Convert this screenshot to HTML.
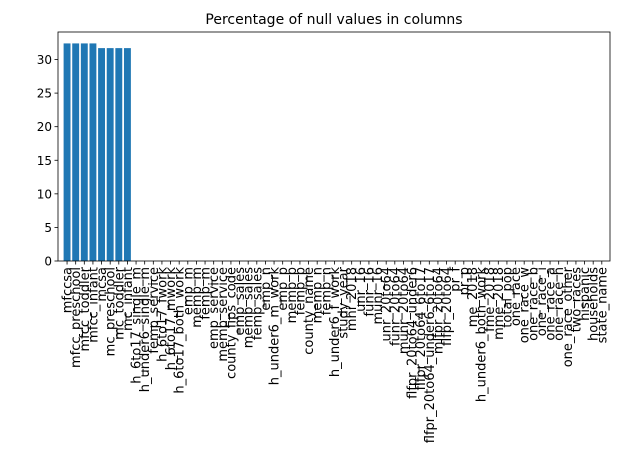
<!DOCTYPE html>
<html><head><meta charset="utf-8"><style>
body{margin:0;background:#fff;}
svg text{font-family:"DejaVu Sans","Liberation Sans",sans-serif;}
</style></head><body>
<svg id="chart" width="630" height="470" xmlns="http://www.w3.org/2000/svg">
<text x="334" y="24" font-size="14" text-anchor="middle">Percentage of null values in columns</text>
<g id="bars"></g>
<g id="yaxis"></g>
<g id="xaxis"></g>
<rect x="58" y="32" width="552" height="229" fill="none" stroke="#000" stroke-width="0.8"/>
</svg>
<script>
const categories=["mfccsa","mfcc_preschool","mfcc_toddler","mfcc_infant","mcsa","mc_preschool","mc_toddler","mc_infant","h_6to17_single_m","h_under6_single_m","femp_service","h_6to17_fwork","h_6to17_mwork","h_6to17_both_work","emp_m","memp_m","femp_m","emp_service","memp_service","county_fips_code","emp_sales","memp_sales","femp_sales","emp_n","h_under6_m_work","emp_p","memp_p","femp_p","county_name","memp_n","femp_n","h_under6_f_work","study_year","mhi_2018","unr_16","funr_16","munr_16","unr_20to64","funr_20to64","munr_20to64","flfpr_20to64_under6","flfpr_20to64_6to17","flfpr_20to64_under6_6to17","mlfpr_20to64","flfpr_20to64","pr_f","pr_p","me_2018","h_under6_both_work","fme_2018","mme_2018","total_pop","one_race","one_race_w","one_race_b","one_race_i","one_race_a","one_race_h","one_race_other","two_races","hispanic","households","state_name"];
const values=[32.4,32.4,32.4,32.4,31.7,31.7,31.7,31.7];
const yTicks=[0,5,10,15,20,25,30];
const NS="http://www.w3.org/2000/svg";
const L=58,R=610,T=32,B=261,yMax=34.1;
const n=categories.length;
const step=(R-L)/(n-1+0.8+0.1+1.1);
const x0=L+step*1.05;
function xs(i){return x0+i*step;}
function ys(v){return B-v/yMax*(B-T);}
const bars=document.getElementById('bars'),xa=document.getElementById('xaxis'),ya=document.getElementById('yaxis');
categories.forEach((c,i)=>{
 const v=values[i]||0;
 if(v>0){const r=document.createElementNS(NS,'rect');
 r.setAttribute('x',xs(i)-step*0.4);r.setAttribute('width',step*0.8);
 r.setAttribute('y',ys(v));r.setAttribute('height',B-ys(v));r.setAttribute('fill','#1f77b4');
 
 
 bars.appendChild(r);}
 const t=document.createElementNS(NS,'line');
 t.setAttribute('x1',xs(i));t.setAttribute('x2',xs(i));t.setAttribute('y1',B);t.setAttribute('y2',B+3.5);t.setAttribute('stroke','#000');t.setAttribute('stroke-width','0.8');
 
 
 xa.appendChild(t);
 const lb=document.createElementNS(NS,'text');
 lb.setAttribute('transform','translate('+(xs(i)+4.5)+','+(B+6)+') rotate(-90)');
 lb.setAttribute('font-size','13');lb.setAttribute('text-anchor','end');
 lb.textContent=c;
 
 
 xa.appendChild(lb);
});
yTicks.forEach(v=>{
 const t=document.createElementNS(NS,'line');
 t.setAttribute('x1',L-3.5);t.setAttribute('x2',L);t.setAttribute('y1',ys(v));t.setAttribute('y2',ys(v));t.setAttribute('stroke','#000');t.setAttribute('stroke-width','0.8');
 
 
 ya.appendChild(t);
 const lb=document.createElementNS(NS,'text');
 lb.setAttribute('x',L-6);lb.setAttribute('y',ys(v)+4.5);lb.setAttribute('font-size','12');lb.setAttribute('text-anchor','end');
 lb.textContent=v;
 
 
 ya.appendChild(lb);
});
</script>
</body></html>
